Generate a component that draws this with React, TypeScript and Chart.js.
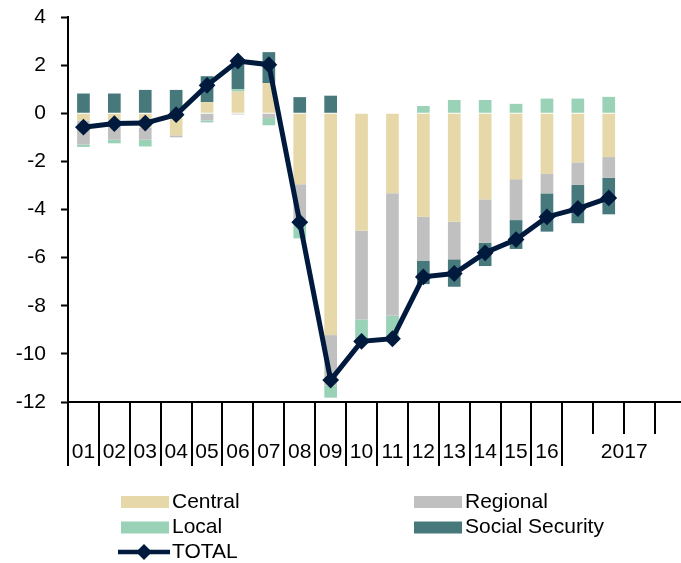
import React, { useEffect, useRef } from 'react';
import { Chart, registerables } from 'chart.js';

Chart.register(...registerables);

// ---- data ----
const categories = ['01', '02', '03', '04', '05', '06', '07', '08', '09', '10', '11', '12', '13', '14', '15', '16', '', '', '', ''];
const yearLabel = '2017';
const yearStartIndex = 16;
const yearSlots = 4;

const central = [-0.3, -0.45, -0.6, -0.92, 0.46, 0.9, 1.25, -2.95, -9.22, -4.88, -3.32, -4.3, -4.51, -3.58, -2.74, -2.52, -2.04, -1.82, null, null];
const regional = [-1.0, -0.65, -0.5, -0.08, -0.3, -0.05, -0.2, -1.5, -2.1, -3.69, -5.1, -1.84, -1.56, -1.8, -1.7, -0.81, -0.94, -0.86, null, null];
const local = [-0.1, -0.15, -0.28, 0, -0.08, 0.1, -0.3, -0.75, -0.5, -0.93, -0.95, 0.3, 0.55, 0.55, 0.39, 0.61, 0.61, 0.68, null, null];
const socialSecurity = [0.82, 0.82, 0.97, 0.97, 1.08, 1.22, 1.29, 0.67, 0.73, 0, 0, -0.96, -1.14, -0.97, -1.2, -1.59, -1.59, -1.52, null, null];
const total = [-0.58, -0.43, -0.41, -0.06, 1.16, 2.17, 2.02, -4.53, -11.09, -9.48, -9.37, -6.8, -6.66, -5.8, -5.25, -4.31, -3.96, -3.52, null, null];

const yMin = -12;
const yMax = 4;
const yStep = 2;

const COLORS = {
  central: '#E6D8A9',
  regional: '#C0C0C0',
  local: '#99D2B6',
  social: '#46787C',
  total: '#001A3E',
};

const FONT = '"Liberation Sans", Arial, sans-serif';
const FONT_SIZE = 21;
const X_LABEL_PADDING = 38;

const axisPlugin = {
  id: 'customAxis',
  afterDraw(chart: any) {
    const ctx = chart.ctx;
    const x = chart.scales.x;
    const step = x.getPixelForValue(1) - x.getPixelForValue(0);
    const start = x.getPixelForValue(0) - step / 2;
    ctx.save();
    ctx.strokeStyle = '#000';
    ctx.lineWidth = 2;
    for (let i = 0; i <= categories.length; i++) {
      const px = Math.round(start + i * step);
      const inner = i > yearStartIndex && i < yearStartIndex + yearSlots;
      const len = inner ? 32 : 64;
      ctx.beginPath();
      ctx.moveTo(px, x.top);
      ctx.lineTo(px, x.top + len);
      ctx.stroke();
    }
    // year label centred under its group of quarters
    const cx = start + (yearStartIndex + yearSlots / 2) * step;
    const cy = x.top + X_LABEL_PADDING + (FONT_SIZE * 1.2) / 2;
    ctx.fillStyle = '#000';
    ctx.font = `${FONT_SIZE}px ${FONT}`;
    ctx.textAlign = 'center';
    ctx.textBaseline = 'middle';
    ctx.fillText(yearLabel, cx, cy);

    // legend (two columns)
    const ds = chart.data.datasets;
    const items = [
      { d: ds[1], x: 121, y: 502 },
      { d: ds[2], x: 414, y: 502 },
      { d: ds[3], x: 121, y: 527.5 },
      { d: ds[4], x: 414, y: 527.5 },
      { d: ds[0], x: 121, y: 552 },
    ];
    ctx.textAlign = 'left';
    for (const it of items) {
      if (it.d.type === 'line') {
        ctx.strokeStyle = it.d.borderColor;
        ctx.lineWidth = 4.5;
        ctx.beginPath();
        ctx.moveTo(it.x - 3, it.y);
        ctx.lineTo(it.x + 49, it.y);
        ctx.stroke();
        const mx = it.x + 23;
        const r = 8;
        ctx.fillStyle = it.d.borderColor;
        ctx.beginPath();
        ctx.moveTo(mx - r, it.y);
        ctx.lineTo(mx, it.y - r);
        ctx.lineTo(mx + r, it.y);
        ctx.lineTo(mx, it.y + r);
        ctx.closePath();
        ctx.fill();
      } else {
        ctx.fillStyle = it.d.backgroundColor;
        ctx.fillRect(it.x, it.y - 6, 48, 12);
      }
      ctx.fillStyle = '#000';
      ctx.fillText(it.d.label, it.x + 51, it.y);
    }
    ctx.restore();
  },
};

export default function App() {
  const ref = useRef<HTMLCanvasElement | null>(null);

  useEffect(() => {
    if (!ref.current) return;
    const barCommon = {
      type: 'bar' as const,
      barPercentage: 0.41,
      categoryPercentage: 1,
      order: 1,
      borderWidth: 0,
    };
    const chart = new Chart(ref.current, {
      type: 'bar',
      data: {
        labels: categories,
        datasets: [
          {
            type: 'line',
            label: 'TOTAL',
            data: total,
            borderColor: COLORS.total,
            backgroundColor: COLORS.total,
            borderWidth: 5,
            pointStyle: 'rectRot',
            pointRadius: 7,
            pointBorderWidth: 2,
            pointBackgroundColor: COLORS.total,
            pointBorderColor: COLORS.total,
            tension: 0,
            spanGaps: false,
            order: 0,
          } as any,
          { ...barCommon, label: 'Central', data: central, backgroundColor: COLORS.central },
          { ...barCommon, label: 'Regional', data: regional, backgroundColor: COLORS.regional },
          { ...barCommon, label: 'Local', data: local, backgroundColor: COLORS.local },
          { ...barCommon, label: 'Social Security', data: socialSecurity, backgroundColor: COLORS.social },
        ],
      },
      options: {
        animation: false,
        responsive: false,
        devicePixelRatio: 1,
        layout: { padding: { top: 17, right: 4, left: 0, bottom: 0 } },
        plugins: {
          legend: { display: false },
          tooltip: { enabled: false },
        },
        scales: {
          x: {
            stacked: true,
            offset: true,
            grid: { display: false, drawTicks: false },
            border: { display: true, color: '#000', width: 2 },
            ticks: {
              color: '#000',
              font: { family: FONT, size: FONT_SIZE },
              padding: X_LABEL_PADDING,
              maxRotation: 0,
              autoSkip: false,
            },
            afterFit: (s: any) => {
              s.height = 161;
              s.paddingLeft = 0;
              s.paddingRight = 0;
            },
          },
          y: {
            stacked: true,
            min: yMin,
            max: yMax,
            grid: {
              drawOnChartArea: false,
              drawTicks: true,
              tickLength: 7,
              tickWidth: 2,
              tickColor: '#000',
            },
            border: { display: true, color: '#000', width: 2 },
            ticks: {
              stepSize: yStep,
              color: '#000',
              font: { family: FONT, size: FONT_SIZE },
              padding: 15,
            },
            afterFit: (s: any) => {
              s.width = 68;
              s.paddingTop = 0;
              s.paddingBottom = 0;
            },
          },
        },
      },
      plugins: [axisPlugin],
    });
    return () => chart.destroy();
  }, []);

  return (
    <div style={{ position: 'fixed', left: 0, top: 0, width: 681, height: 563, overflow: 'hidden', background: '#fff' }}>
      <canvas ref={ref} width={695} height={563} style={{ display: 'block', width: 695, height: 563 }} />
    </div>
  );
}
